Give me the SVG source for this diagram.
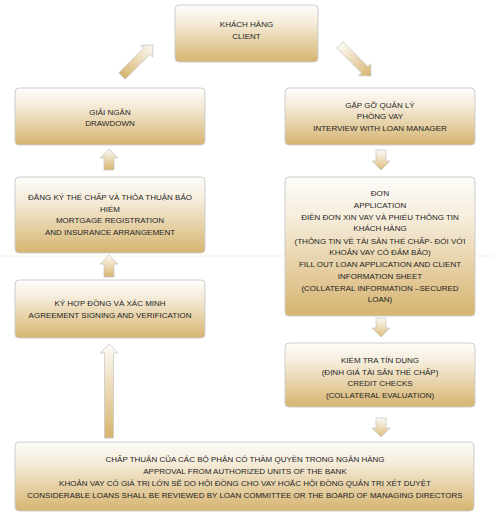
<svg xmlns="http://www.w3.org/2000/svg" width="494" height="519" viewBox="0 0 494 519">
<defs>
<linearGradient id="boxg" x1="0" y1="0" x2="0" y2="1">
<stop offset="0" stop-color="#fefdfb"/>
<stop offset="0.3" stop-color="#f5ecda"/>
<stop offset="1" stop-color="#d6b470"/>
</linearGradient>
<linearGradient id="arrg" x1="0" y1="0" x2="0" y2="1">
<stop offset="0" stop-color="#fdfbf6"/>
<stop offset="1" stop-color="#d7b46e"/>
</linearGradient>
<linearGradient id="arrr" x1="0" y1="1" x2="0" y2="0">
<stop offset="0" stop-color="#fdfbf6"/>
<stop offset="1" stop-color="#d7b46e"/>
</linearGradient>
<linearGradient id="arrd" x1="0" y1="0" x2="0" y2="1">
<stop offset="0" stop-color="#fdfbf6"/>
<stop offset="1" stop-color="#dcbb78"/>
</linearGradient>
</defs>
<style>
.box{fill:url(#boxg);stroke:#cdcdcd;stroke-width:1}
.t{font-family:"Liberation Sans",Arial,sans-serif;font-size:8px;fill:#1f1f1f;text-anchor:middle}
.arr{stroke:#c9c9c9;stroke-width:0.8}
</style>
<rect x="0" y="255.5" width="494" height="1" fill="#fbf2de"/>
<g id="connectors">
<path class="arr" fill="url(#arrg)" d="M137.5,38.5 L146,47.5 L142,47.5 L142,82.5 L133,82.5 L133,47.5 L129,47.5 Z" transform="rotate(45 137.5 60.5)"/>
<path class="arr" fill="url(#arrr)" d="M355.5,38.5 L364,47.5 L360,47.5 L360,82.5 L351,82.5 L351,47.5 L347,47.5 Z" transform="rotate(135 355.5 60.5)"/>
<path class="arr" fill="url(#arrg)" d="M109,149 L118,158 L114,158 L114,170 L104,170 L104,158 L100,158 Z"/>
<path class="arr" fill="url(#arrg)" d="M109,255 L118,264 L114,264 L114,277 L104,277 L104,264 L100,264 Z"/>
<path class="arr" fill="url(#arrg)" d="M109,344 L118,353 L113.5,353 L113.5,438 L104.5,438 L104.5,353 L100,353 Z"/>
<path class="arr" fill="url(#arrd)" d="M376,150 L386,150 L386,161 L390,161 L381,170 L372,161 L376,161 Z"/>
<path class="arr" fill="url(#arrd)" d="M376,318 L386,318 L386,328 L390,328 L381,337 L372,328 L376,328 Z"/>
<path class="arr" fill="url(#arrd)" d="M376,418 L386,418 L386,428 L390,428 L381,437 L372,428 L376,428 Z"/>
</g>
<g id="client">
<rect class="box" x="175" y="5" width="143" height="57" rx="4"/>
<text class="t" x="246.5" y="27">KHÁCH HÀNG</text>
<text class="t" x="246.5" y="39">CLIENT</text>
</g>
<g id="drawdown">
<rect class="box" x="15" y="88" width="190" height="57" rx="4"/>
<text class="t" x="110" y="114.5">GIẢI NGÂN</text>
<text class="t" x="110" y="126">DRAWDOWN</text>
</g>
<g id="interview">
<rect class="box" x="285" y="88" width="190" height="57" rx="4"/>
<text class="t" x="380" y="107.5">GẶP GỠ QUẢN LÝ</text>
<text class="t" x="380" y="119">PHÒNG VAY</text>
<text class="t" x="380" y="130.5">INTERVIEW WITH LOAN MANAGER</text>
</g>
<g id="mortgage">
<rect class="box" x="15" y="177" width="190" height="76" rx="4"/>
<text class="t" x="110" y="200">ĐĂNG KÝ THẾ CHẤP VÀ THỎA THUẬN BẢO</text>
<text class="t" x="110" y="211.5">HIỂM</text>
<text class="t" x="110" y="223">MORTGAGE REGISTRATION</text>
<text class="t" x="110" y="234.5">AND INSURANCE ARRANGEMENT</text>
</g>
<g id="application">
<rect class="box" x="285" y="177" width="190" height="139" rx="4"/>
<text class="t" x="380" y="196">ĐƠN</text>
<text class="t" x="380" y="207.5">APPLICATION</text>
<text class="t" x="380" y="219.5">ĐIỀN ĐƠN XIN VAY VÀ PHIẾU THÔNG TIN</text>
<text class="t" x="380" y="231">KHÁCH HÀNG</text>
<text class="t" x="380" y="243.5">(THÔNG TIN VỀ TÀI SẢN THẾ CHẤP- ĐỐI VỚI</text>
<text class="t" x="380" y="255">KHOẢN VAY CÓ ĐẢM BẢO)</text>
<text class="t" x="380" y="267">FILL OUT LOAN APPLICATION AND CLIENT</text>
<text class="t" x="380" y="279">INFORMATION SHEET</text>
<text class="t" x="380" y="291">(COLLATERAL INFORMATION –SECURED</text>
<text class="t" x="380" y="302">LOAN)</text>
</g>
<g id="agreement">
<rect class="box" x="15" y="280" width="190" height="58" rx="4"/>
<text class="t" x="110" y="305.5">KÝ HỢP ĐỒNG VÀ XÁC MINH</text>
<text class="t" x="110" y="317.5">AGREEMENT SIGNING AND VERIFICATION</text>
</g>
<g id="credit">
<rect class="box" x="285" y="343" width="190" height="64" rx="4"/>
<text class="t" x="380" y="362.5">KIỂM TRA TÍN DỤNG</text>
<text class="t" x="380" y="374.5">(ĐỊNH GIÁ TÀI SẢN THẾ CHẤP)</text>
<text class="t" x="380" y="386">CREDIT CHECKS</text>
<text class="t" x="380" y="397.5">(COLLATERAL EVALUATION)</text>
</g>
<g id="approval">
<rect class="box" x="15" y="442" width="459" height="69" rx="4"/>
<text class="t" x="245" y="461.5">CHẤP THUẬN CỦA CÁC BỘ PHẬN CÓ THẨM QUYỀN TRONG NGÂN HÀNG</text>
<text class="t" x="245" y="473.5">APPROVAL FROM AUTHORIZED UNITS OF THE BANK</text>
<text class="t" x="245" y="485.5">KHOẢN VAY CÓ GIÁ TRỊ LỚN SẼ DO HỘI ĐỒNG CHO VAY HOẶC HỘI ĐỒNG QUẢN TRỊ XÉT DUYỆT</text>
<text class="t" x="245" y="497.5">CONSIDERABLE LOANS SHALL BE REVIEWED BY LOAN COMMITTEE OR THE BOARD OF MANAGING DIRECTORS</text>
</g>
</svg>
